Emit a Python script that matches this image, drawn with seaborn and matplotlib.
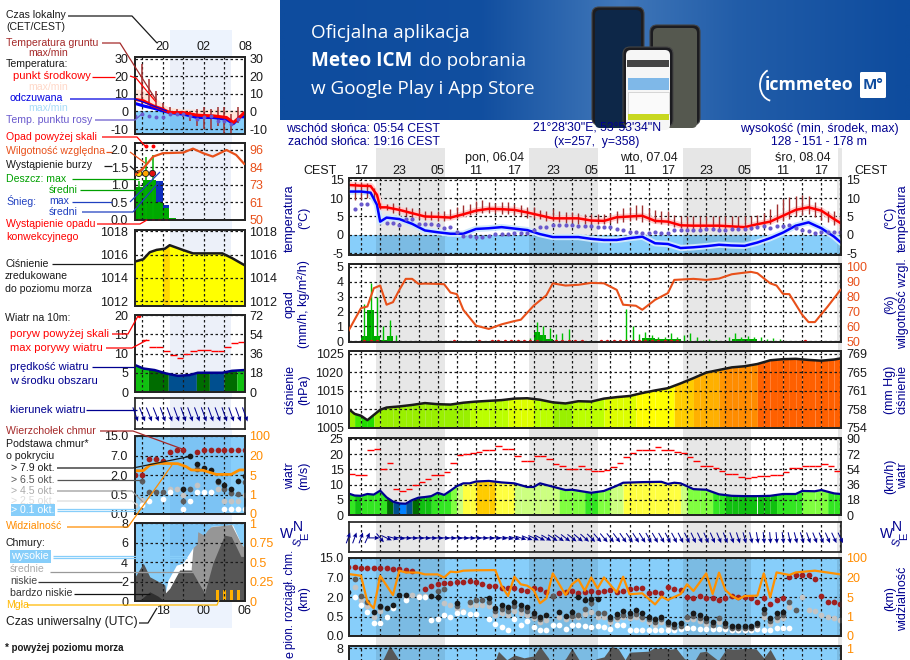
import numpy as np
import seaborn as sns
import matplotlib.pyplot as plt
from matplotlib.patches import FancyBboxPatch, Rectangle, Arc

W, H = 910, 660

# ---- long chart (hours after 17:00 local) ----
t_line = [-2, 0, 1.5, 2.5, 3, 4, 6, 8, 10, 12, 14, 16, 18, 20, 22, 24, 26, 28, 30, 32, 34, 36, 38, 40, 42, 44, 46, 48, 50, 52, 54, 56, 58, 60, 62, 64, 66, 68, 70, 72, 74, 75.2, 76]
temp_mid = [13.6, 13.4, 13.3, 10.9, 7.5, 7.5, 6.8, 5.9, 5, 4.9, 4.7, 5.6, 6.6, 7.1, 7, 6.8, 6.1, 5.3, 4.5, 4.5, 4.5, 3.9, 3.8, 4.8, 5, 5.2, 3.8, 3.6, 2.6, 2.5, 2.5, 2.5, 2.3, 2.1, 2.9, 3.6, 5.2, 6.8, 7.5, 6.6, 4.3, 3, 2.4]
temp_feel = [11.8, 11.8, 11.5, 8.2, 3.6, 4.7, 4.3, 3, 1.2, 0.7, 0.3, 0.3, 1.6, 1.8, 2.1, 1.7, 1.3, 0.2, -0.6, -0.6, -0.6, -1.1, -1.4, -1.4, -0.9, -0.5, -2.3, -2.5, -3.6, -3.4, -3.1, -2.7, -2.9, -3, -2.1, -0.9, 0.6, 2.5, 3.4, 1.8, -0.5, -2.3, -3]
hours = list(range(-2, 76))
dew = [np.nan, 7, 8.4, 8.5, np.nan, np.nan, 3.2, 3.1, 2.6, 4.2, 4.2, 3, 3, 3, 2.7, 1.8, 2, 0.9, -0.2, -0.2, -0.5, -0.5, -0.2, 0.1, 0.3, 0.3, 0.5, 0.5, 0.6, 1.4, 2.2, 2.2, 2.7, 2.7, 2.7, 2.7, 2.5, 2.5, 2.3, 2.1, 2.1, 2, 1.7, 1.4, 0.9, 0.9, 0.6, 0.6, 0.7, 0.6, 0.5, 1.4, 1.4, 1.3, 1.4, 1.4, 1.5, 1.5, 1.3, 1.4, 1.5, 1.5, 1.6, 1.8, 2.1, 2.3, 1.8, 2.3, 2.5, 2.7, 1.8, 1.4, 1.1, 0.6, 0.9, 0.7, 0.9, 0.7]
ground_max = [np.nan, 14.3, 14.3, 14.1, 12.7, 8.8, 8.5, 8.6, 7.8, 7.6, 7.3, 7, 6.6, 6.4, 6.5, 6.6, 7, 7.5, 8, 8.5, 9.2, 9.5, 9, 8.6, 9, 9, 8.5, 8, 7.5, 7.6, 6.8, 6.6, 7, 6.5, 6.3, 6.3, 6, 5.8, 5.7, 5.8, 5.8, 6, 6.5, 7.2, 7.5, 8, 8, 7.4, 6.9, 6.6, 6.6, 5.3, 5.2, 5.2, 5.2, 5.2, 5.2, 5.2, 5.2, 5, 5, 5, 5, 5.2, 5.5, 6, 7, 8.5, 9.7, 10.2, 10.5, 10.9, 10.6, 9, 7.5, 6.6, 6.5, 5]
ground_min = [np.nan, 9.5, 9.7, 10, 9.5, 7, 6.8, 6, 5.6, 5.2, 4.6, 4.3, 4.1, 4, 3.9, 3.8, 4.2, 4.6, 5, 5.5, 6, 6, 6, 6, 5.8, 5.8, 5.5, 5, 4.7, 4.7, 4.4, 3.8, 3.8, 3.4, 3.3, 3.3, 3, 3, 3, 3, 3, 3.2, 3.2, 3.5, 3.8, 4, 3.6, 3.4, 3.3, 3, 2.6, 2.2, 1.8, 1.6, 1.6, 1.6, 1.6, 1.5, 1.5, 1.5, 1.4, 1.3, 1.3, 1.4, 1.8, 2.2, 3, 3.5, 3.8, 4.2, 5, 5.4, 5.6, 4.8, 4, 3.4, 2.6, 1.8]

rh_t = [-2, 0, 1, 2, 3, 4, 5, 6, 7, 8, 9, 10, 12, 13, 14, 15, 16, 18, 20, 22, 24, 25, 27, 29, 30, 32, 34, 36, 38, 40, 41, 43, 44, 46, 48, 49, 52, 54, 56, 58, 60, 61, 62, 64, 65, 66, 67, 69, 70, 71, 73, 75, 76]
rh = [56.7, 72.3, 73.4, 85.7, 87.5, 74.6, 76.3, 84.6, 92, 92, 88.6, 88.8, 88.6, 88.4, 82.8, 81.7, 71.2, 60.5, 58.3, 61.4, 63.6, 64.5, 73.9, 81, 89, 87.5, 88, 89.3, 89, 84.6, 74.6, 73.9, 71.2, 77.9, 82.4, 91.3, 92, 91.3, 92.2, 95.1, 96.2, 96.7, 95.8, 89, 87.5, 81.9, 81.7, 67.9, 62.9, 62.9, 73.4, 84.6, 87]
rain_start = [0, 1, 2, 3, 4, 27, 28, 29, 44, 46, 58]
rain_len = [1, 1, 1, 1, 1, 1, 1, 1, 2, 4, 4]
rain_mean = [0.38, 2.1, 0.38, 0.07, 0.38, 0.6, 0.45, 0.18, 0.22, 0.18, 0.18]
spike_t = [0.5, 1.5, 2.5, 3.5, 4.5, 5.5, 26.5, 27.5, 28.5, 29.5, 30.5, 31.5, 32.5, 41.5, 42.5, 43.5, 44.5, 45.5, 46.5, 47.5, 48.5, 49.5, 50.5, 51.5, 52.5, 53.5, 54.5, 55.5, 57.5, 58.5, 59.5, 60.5, 61.5, 62.5, 63.5, 64.5, 65.5]
spike_v = [2.5, 3.9, 3, 1, 1.45, 0.45, 0.2, 1.3, 1, 0.87, 0.5, 0.55, 0.8, 2.2, 1, 0.5, 0.6, 0.45, 0.3, 0.3, 0.55, 0.3, 0.45, 0.55, 0.3, 0.1, 0.15, 0.1, 0.3, 0.55, 0.3, 0.38, 0.3, 0.28, 0.15, 0.2, 0.15]
conv_t = [0.5, 1.5, 2.5, 14.5, 18.5, 20.5, 21.5, 22.5, 23.5, 24.5, 25.5, 26.5, 27.5, 30.5, 31.5, 32.5, 33.5, 34.5, 37.5, 38.5, 39.5, 40.5, 41.5, 42.5, 43.5, 44.5, 45.5, 46.5, 47.5, 48.5, 49.5, 69.5]

press_t = [-2, -1, 0, 1, 3, 4, 6, 8, 10, 12, 14, 16, 18, 20, 22, 24, 26, 28, 30, 32, 34, 36, 38, 40, 42, 44, 46, 48, 50, 52, 54, 56, 58, 60, 62, 64, 66, 68, 70, 72, 74, 76]
press = [1010.2, 1008.8, 1008.3, 1007.1, 1009.9, 1010.5, 1010.8, 1011.2, 1011.7, 1011.4, 1011.3, 1011.8, 1012.1, 1012.3, 1012.5, 1012.9, 1013, 1012.6, 1011.9, 1011.6, 1012.2, 1012.1, 1012.9, 1013.3, 1013.6, 1014.4, 1015.1, 1015.7, 1017, 1018.4, 1019.9, 1020.6, 1021.3, 1021.6, 1022.2, 1023.2, 1023.5, 1023.6, 1023.3, 1023.1, 1023.4, 1024]

wind_t = [-2, -1, 0, 1, 2, 3, 4, 5, 6, 7, 8, 9, 10, 11, 12, 13, 14, 15, 16, 17, 18, 19, 20, 22, 24, 26, 27, 28, 30, 32, 33, 36, 38, 40, 41, 44, 47, 48, 49, 50, 52, 54, 56, 58, 60, 62, 64, 66, 68, 69, 71, 72, 74, 76]
wind = [7.1, 6.4, 6.3, 6.9, 6.7, 8, 5.8, 4.4, 3.8, 3.7, 4.9, 5.7, 5.9, 6.2, 7.3, 6.6, 8, 9.5, 10.4, 10.4, 11, 11.1, 11.2, 10.7, 10.4, 9.2, 9.2, 10.4, 9.3, 8.2, 8.3, 7.3, 7.9, 9.6, 10.6, 10.8, 10.9, 10.2, 10.6, 10.4, 8.5, 8.3, 6.8, 6.3, 6.2, 6.2, 6.3, 6.9, 6.9, 7.9, 7.8, 8.2, 7.1, 6.7]
gust = [13.6, 13.3, 13.3, 21.5, 21.8, 15, 17.2, 8.7, 7.9, 8.7, 10, 10.7, 11.7, 13.3, 13.3, 14, 17.2, 19.8, 20, 20.3, 20.8, 21.5, 21.5, 22.8, 21.8, 21.8, 19.5, 17.6, 17.9, 19.5, 19.5, 18.3, 16.6, 16.2, 15, 15, 16.2, 15, 14.3, 14.3, 14.7, 15.7, 17, 18.9, 20.5, 21.2, 21.2, 21.2, 22.2, 21.2, 21.2, 20.8, 20.5, 18.9, 17.6, 16, 16, 15.4, 14.3, 13.6, 13.6, 12.4, 12.1, 12.4, 12.8, 12.8, 13, 13.3, 14, 15.4, 15.4, 16, 16.2, 16, 16.6, 16, 14.6, 13]
wind_dir = [200, 200, 200, 205, 270, 320, 295, 285, 280, 275, 275, 275, 275, 275, 275, 275, 275, 275, 275, 275, 275, 275, 276, 278, 280, 282, 285, 288, 292, 295, 298, 300, 303, 305, 307, 308, 310, 312, 315, 318, 320, 322, 323, 325, 325, 327, 328, 330, 330, 330, 332, 332, 333, 333, 335, 335, 335, 336, 337, 338, 340, 342, 344, 346, 350, 354, 355, 355, 352, 348, 345, 342, 340, 338, 337, 336, 335, 335]

# cloud panels: values are positions on the 0.0/0.5/2/7/15 km scale (ticks 0..4)
base_top = [3.52, 3.52, 3.47, 3.47, 3.47, 3.47, 3.47, 3.42, 3.42, 3.38, 3.35, np.nan, 2.43, 2.58, 2.65, 2.7, 2.7, 2.75, 2.79, 2.8, 2.75, 2.65, 2.58, 2.58, 2.48, 2.44, 2.44, 2.36, 2.32, 2.44, 2.39, 2.27, 2.05, 2.19, 2.24, 2.31, 2.19, 2.24, 2.32, 2.27, 2.32, 2.36, 2.27, 2.32, 2.41, 2.48, 2.44, 2.19, 2.24, 2.19, 2.53, 2.39, 2.36, 2.02, 1.93, 2.05, 1.93, 1.93, 1.85, 1.93, 2.07, 1.98, 2.02, 1.93, 1.74, 1.93, 1.64, 1.85, 1.97, 3.04, 3.11, 3.11, 3.13, 2.92, 2.07, 1.76, 1.73, 1.64]
black_t = [-2, 2, 3, 4, 5, 6, 7, 11, 12, 15, 20, 21, 22, 23, 24, 25, 26, 27, 28, 29, 31, 32, 33, 34, 35, 36, 37, 39, 40, 41, 42, 43, 44, 45, 46, 47, 48, 49, 50, 52, 53, 54, 55, 57, 58, 59, 60, 61, 62, 63, 64, 65, 66]
black_p = [2.24, 1.21, 1.56, 1.42, 1.57, 2.12, 2.09, 2.05, 2.02, 1.68, 1.95, 1.45, 1.57, 1.5, 1.74, 1.59, 1.5, 1.2, 0.99, 1.08, 1.21, 1.03, 1.21, 1.98, 1.85, 1.88, 1.9, 0.99, 1.15, 1.26, 1.2, 1.32, 1.16, 0.99, 0.85, 0.99, 0.74, 0.6, 0.65, 1.16, 1.06, 0.91, 0.7, 0.65, 0.5, 0.5, 0.5, 0.51, 0.68, 1.37, 0.91, 1.16, 1.25]
dark_t = [-1, 0, 1, 3, 3, 12, 13, 15, 17, 18, 19, 20, 21, 22, 23, 24, 25, 26, 27, 28, 30, 33, 34, 35, 36, 37, 38, 39, 40, 41, 42, 43, 44, 45, 46, 47, 48, 49, 50, 51, 52, 53, 54, 55, 56, 57, 58, 59, 60, 61, 62, 63, 64, 65, 66, 67, 68]
dark_p = [2.92, 2.07, 1.76, 2.9, 1.5, 2.3, 2.4, 1.55, 1.76, 1.85, 1.85, 1.75, 1.28, 1.4, 1.3, 1.55, 1.4, 1.3, 1.05, 0.85, 2.05, 1.05, 1.1, 1.37, 1.7, 1.16, 1.16, 0.85, 1.0, 1.1, 1.05, 1.15, 1.0, 0.85, 0.7, 0.85, 0.6, 0.48, 0.5, 1.0, 1.05, 0.92, 0.75, 0.58, 0.9, 0.5, 0.4, 0.4, 0.4, 0.4, 0.55, 1.2, 0.75, 1.0, 1.08, 1.76, 1.33]
light_t = [-1, 0, 1, 2, 3, 7, 8, 9, 10, 13, 14, 15, 16, 17, 18, 19, 20, 21, 22, 23, 24, 25, 26, 27, 28, 29, 31, 32, 33, 34, 35, 36, 37, 38, 39, 40, 41, 42, 43, 44, 45, 46, 47, 48, 49, 50, 51, 52, 53, 54, 55, 56, 57, 58, 59, 60, 61, 62, 63, 64, 65, 66, 67, 69, 70, 71, 72, 73, 74, 75]
light_p = [2.5, 1.85, 1.55, 1.0, 1.3, 2.0, 2.1, 2.05, 2.05, 1.7, 1.6, 1.4, 1.3, 1.6, 1.6, 1.6, 1.55, 1.1, 1.2, 1.1, 1.3, 1.2, 1.1, 0.9, 0.7, 0.8, 1.0, 0.85, 0.95, 0.95, 1.15, 1.25, 1.0, 0.95, 0.7, 0.85, 0.95, 0.9, 1.0, 0.85, 0.7, 0.55, 0.7, 0.45, 0.38, 0.4, 0.85, 0.85, 0.75, 0.6, 0.45, 0.7, 0.42, 0.32, 0.32, 0.32, 0.32, 0.45, 1.0, 0.6, 0.8, 0.9, 1.5, 1.98, 1.33, 1.3, 1.1, 1.0, 0.9, 0.8]
white_t = [-1, 0, 1, 2, 3, 4, 5, 7, 9, 10, 11, 12, 13, 14, 15, 16, 17, 18, 20, 21, 22, 23, 24, 25, 26, 27, 28, 29, 30, 31, 32, 33, 34, 35, 36, 37, 38, 39, 40, 41, 42, 43, 44, 45, 46, 47, 48, 49, 50, 51, 52, 53, 54, 55, 56, 57, 58, 59, 60, 61, 62, 63, 64, 65, 66, 67]
white_p = [2, 1.6, 1.25, 0.65, 0.65, 1, 1.42, 1.85, 2, 2, 0.82, 0.85, 1.08, 0.99, 1.16, 1.25, 1.11, 1.11, 0.89, 0.62, 0.48, 0.31, 0.85, 0.56, 0.79, 0.48, 0.31, 0.31, 0.56, 0.56, 0.34, 0.56, 0.56, 0.53, 0.48, 0.51, 0.48, 0.34, 0.56, 0.56, 0.29, 0.29, 0.29, 0.29, 0.29, 0.29, 0.29, 0.29, 0.34, 0.39, 0.39, 0.36, 0.36, 0.36, 0.36, 0.36, 0.29, 0.29, 0.29, 0.29, 0.34, 0.31, 0.29, 0.39, 0.41, 0.41]
vis_t = [-2, 0, 1, 2, 3, 5, 6, 7, 9, 10, 12, 13, 14, 15, 16, 18, 21, 22, 23, 24, 25, 26, 27, 28, 29, 30, 32, 33, 34, 35, 36, 37, 38, 40, 41, 42, 44, 46, 47, 48, 50, 51, 52, 54, 55, 56, 57, 58, 59, 60, 62, 63, 64, 65, 67, 68, 71, 75, 76]
vis_p = [3.18, 3.09, 1.76, 1.42, 3.08, 2.1, 3.35, 3.26, 3.25, 3.16, 3.16, 3, 3.3, 3.27, 3.35, 3.37, 3.38, 2.56, 2.05, 3.04, 2.65, 2.58, 2.36, 1.68, 1.93, 3.21, 2.1, 2.65, 2.9, 2.32, 3, 2.44, 3, 2.24, 3.04, 2.14, 2.19, 1.62, 2.02, 1.85, 2.15, 2.65, 2.31, 3.21, 2.15, 3.25, 2.36, 2.05, 1.88, 2.05, 2.07, 3.21, 1.98, 3.26, 3.13, 3.26, 3.35, 3.16, 3.1]

cover_t = [-2, 2.2, 3.5, 4.5, 5.8, 6, 20.6, 21.5, 22.8, 24, 25.5, 27, 28, 29.3, 30, 32, 33, 34, 35, 36.8, 38, 39.2, 40.2, 41.3, 42, 45, 45.7, 48, 48.3, 49.3, 50.6, 52.2, 53, 54, 55.9, 57.2, 58.2, 60.3, 61.8, 63, 64, 65, 65.5]
cover_v = [6, 6, 6.9, 8.3, 6.9, 6, 6, 7.68, 6.8, 7.3, 7, 7.2, 8.2, 7, 6, 6.9, 8, 6.9, 6, 6.9, 7.1, 8.2, 8, 6.8, 7.6, 7.7, 8, 8, 7.9, 8, 6.9, 6.7, 7.6, 7.7, 6.7, 8, 7.9, 8, 7.95, 7, 7.9, 6.7, 6]

# ---- short chart (hours after 20:00 local) ----
s_t = [-4.06, -2.85, -1.4, 0, 1, 3, 5, 7.4, 9.3, 10.3, 11.3, 11.9]
s_mid = [6.9, 6.1, 3.2, 1.3, -0.6, -0.6, -2.1, -2.5, -3.4, -6.3, -3, -0.6]
s_feel = [4.6, 3.2, 1.9, 0.4, -0.6, -1.5, -3.4, -3.4, -4.4, -6.9, -3, -3]
s_pink = [12.8, 12.2, 9, 4.2, 2.3, 1.5, 1.3, 1.3, 1, 0.8, 0.5, 0.4]
s_hours = list(range(-4, 12))
s_dew = [-2.5, -1.5, -2.5, -2.9, -2.9, -1.5, -1.5, -1.5, -2.5, -4.4, -3.4, -2.5, -5.3, -5.3, -7.2, -4.4]
s_ground_t = list(range(-3, 12))
s_ground_max = [27, 18.5, 11.8, 5.1, 2.7, 1.3, -0.6, 0.4, 1.3, 2.3, 1.3, 2.3, 2.3, -1.5, 2.3]
s_ground_min = [4, 3.8, 3.2, 0.8, -1.1, -2.5, -3.4, -5.3, -8.2, -10, -10, -8.2, -13, -12.6, -6.3]
s_rh_t = [-4.06, -2.85, -1.4, 0, 3, 4.4, 5.9, 7.3, 9.3, 10.7, 11.9]
s_rh = [79.6, 84, 91.7, 93.9, 94.3, 96.9, 93.9, 91.7, 96, 92.8, 86.8]
s_rain_start = [-4.06, -2.85, -0.93, 0, 0.97]
s_rain_len = [1.21, 1.92, 0.93, 0.97, 0.96]
s_rain = [0.95, 1.14, 0.52, 0.33, 0.05]
s_snow = [0, 0, 0.58, 0.1, 0]
s_spike_t = [-3.5, -2.5, -1.5]
s_spike_v = [1.1, 1.8, 1.85]
s_storm_col = ['#ffe000', '#ffa500', '#e01010']
s_conv_t = [-3.5, -2.5, -1.5, -0.5, 0.5]
s_press_t = [-4.06, -2.85, -1.9, -0.9, 0.3, 1, 2.9, 4.4, 8.7, 10.1, 11.9]
s_press = [1015.4, 1015.6, 1016.2, 1016.4, 1016.5, 1016.8, 1016.4, 1016.1, 1016.1, 1015.7, 1015.1]
s_wind_t = [-4.06, -2.85, -1.2, 0.5, 2.2, 3.9, 5.1, 8.7, 10.1, 11.9]
s_wind = [7, 6.1, 5.7, 4.8, 4.2, 4.4, 5, 5, 5.5, 5.7]
s_wind_edge = [-4.06, -2.1, 0.8, 4.9, 6.8, 8.9, 10.8, 11.9]
s_wind_col = ['#10c010', '#006c00', '#004f8f', '#006c00', '#004f8f', '#006c00', '#10c010']
s_gust = [13.5, 11.7, 11.7, 10.6, 9.6, 8.8, 9.8, 10.6, 10.9, 10.9, 10.6, 10.6, 11.7, 12.6, 13]
s_gust_t = list(range(-3, 12))
s_dir = [340, 338, 338, 338, 340, 340, 340, 340, 340, 340, 340, 340, 340, 340, 340, 340, 340]
s_dir_t = list(range(-4, 13))
s_top = [1.98, 1.98, 2.84, 2.84, 2.74, 3.2, 3.3, 3.3, np.nan, 3.2, 3.3, 3.3, 3.3, 3.3, 3.3, 3.3, 3.3]
s_dots_t = list(range(-4, 13))
s_black_t = [3, 4, 5, 6, 7, 8, 9, 10, 11, 12]
s_black_p = [1.26, 2.96, 2.55, 2.34, 2.24, 1.68, 1.49, 1.26, 1.68, 1.95]
s_dark_t = [-3, -2, -1, 0, 3, 4, 5, 8, 9, 10, 11, 12]
s_dark_p = [1.68, 1.11, 1.11, 1.11, 0.68, 1.26, 2.3, 1.66, 1.26, 1.1, 1.05, 1.66]
s_light_t = [-4, -3, 1, 2, 3, 5, 8, 9, 10, 11, 12]
s_light_p = [0.46, 0.72, 1.26, 1.26, 1.0, 1.49, 1.26, 0.68, 0.68, 0.68, 0.97]
s_white_t = [-3, -2, 0, 1, 3, 4, 5, 6, 7, 9, 10, 11, 12]
s_white_p = [0.46, 0.68, 0.75, 1.11, 0.24, 0.68, 1.11, 1.11, 1.11, 0.24, 0.24, 0.24, 0.24]
s_vis_t = [-4.06, -2.85, -1.9, -0.7, 2.2, 3.4, 4.15, 5.9, 7.8, 10, 11.2, 11.9]
s_vis_p = [2.22, 2.22, 2.51, 2.6, 2.58, 2.43, 2.26, 2.24, 2.03, 2.03, 2.26, 2.26]
high_t = [0.1, 0.77, 1.98, 2.9, 4.4, 6.1, 7, 10.2, 11.4, 11.9]
high_v = [0, 2.16, 3.7, 3.9, 5.5, 5.9, 7.7, 7.85, 5.96, 5.5]
mid_t = [4.1, 4.15, 4.4, 5, 5.1, 6, 6.5, 7, 10, 11.4, 11.9]
mid_v = [0, 3.4, 5.5, 5.9, 7.15, 6.8, 7.3, 7.66, 7.9, 5.95, 5.5]
low_t = [-4.06, -2.85, -1.9, 0.3, 0.4, 1, 2.46, 4.15, 6.1, 7.3, 9, 10, 11.4, 11.9]
low_v = [2.5, 3.9, 2.5, 1.65, 0.85, 1.3, 3.2, 3.2, 0.8, 3.9, 6.8, 6.65, 4.6, 4.6]
vlow_t = [-3.5, -2.5, -1.9, -0.7, 0.2]
vlow_v = [0, 0.6, 0.95, 0.5, 0]
fog_t = [8, 9, 10, 11]
fog_v = [1.15, 1.15, 1.15, 1.15]

hour_names = ['17', '23', '05', '11', '17', '23', '05', '11', '17', '23', '05', '11', '17']
LONG_X = (-1.875, 75.08)
SHORT_X = (-4.06, 11.9)
LONG_NIGHT = [(2.35, 13.1), (26.3, 37.1), (50.3, 61), (74.4, 76)]
SHORT_NIGHT = [(1, 10)]
SKY = '#87cefa'
NAVY = '#000090'
RH_COL = '#e8501a'
VIS_COL = '#ff8c00'

sns.set_theme(style='white')
plt.rcParams['font.family'] = ['Liberation Sans', 'DejaVu Sans']
plt.rcParams['axes.unicode_minus'] = False

fig = plt.figure(figsize=(W / 100, H / 100), dpi=100)
fig.patch.set_facecolor('white')


def px_axes(x0, x1, y0, y1, **kw):
    return fig.add_axes([x0 / W, 1 - y1 / H, (x1 - x0) / W, (y1 - y0) / H], **kw)


def panel(box, xlim, ylim, yt, ylab, rlab, rcol='k', long=True, face='white'):
    ax = px_axes(*box)
    ax.set_facecolor(face)
    ax.set_xlim(*xlim)
    ax.set_ylim(*ylim)
    ax.set_xticks(list(range(0, 76, 3)) if long else list(range(-3, 13, 3)))
    ax.tick_params(length=0, labelbottom=False, labelsize=9, pad=4 if long else 5, colors='k')
    ax.set_yticks(yt, ylab)
    ax.grid(True, color='k', linestyle=(0, (2, 2)), linewidth=0.9)
    ax.set_axisbelow(False)
    night = LONG_NIGHT if long else SHORT_NIGHT
    for a, b in night:
        if long:
            ax.axvspan(a, b, color='k', alpha=0.1, lw=0, zorder=0.6)
        else:
            ax.axvspan(a, b, color='#0040b0', alpha=0.075, lw=0, zorder=0.6)
    for s in ax.spines.values():
        s.set_linewidth(1.3)
        s.set_color('#111111')
    tw = ax.twinx()
    tw.set_ylim(*ylim)
    tw.set_yticks(yt, rlab, color=rcol)
    tw.tick_params(length=0, labelsize=9, pad=4 if long else 3)
    tw.grid(False)
    return ax, tw


def line(ax, x, y, col, lw=1.5, z=3, **kw):
    sns.lineplot(x=x, y=y, color=col, linewidth=lw, ax=ax, zorder=z, estimator=None, sort=False, **kw)


def dots(ax, x, y, col, s=17, z=4):
    sns.scatterplot(x=x, y=y, color=col, s=s, linewidth=0, ax=ax, zorder=z)


def blocks(ax, x, y, edges, pick):
    # colour the area under a curve hour by hour from its own value
    for a, b in zip(edges[:-1], edges[1:]):
        ya, yb = np.interp([a, b], x, y)
        ax.fill_between([a, b], [ya, yb], ax.get_ylim()[0], color=pick((ya + yb) / 2), lw=0, zorder=1, antialiased=False)


def press_col(v):
    lev = [1008, 1009, 1011.9, 1012.8, 1014.2, 1016.3, 1018.4, 1020.6, 1021, 1022.2]
    col = ['#22dd00', '#44e800', '#99f000', '#bbff00', '#ddff00', '#ffff00', '#ffcc00', '#ffb000', '#ff9500', '#ff8c00', '#ff6000']
    return col[np.digitize(v, lev)]


def wind_col(v):
    lev = [3.9, 4.6, 5.5, 6.6, 7.6, 9, 10.3, 10.95]
    col = ['#0080ff', '#004f8f', '#006c00', '#10c010', '#33e622', '#80ff40', '#ccff80', '#ffff40', '#ffcc00']
    return col[np.digitize(v, lev)]


def arrows(ax, x, deg, size):
    to = np.radians(np.array(deg) + 180)
    ax.quiver(x, np.full(len(x), 0.47), np.sin(to), np.cos(to), pivot='mid', angles='uv', units='inches',
              scale_units='inches', scale=1 / size, width=0.01, headwidth=4.6, headlength=5,
              headaxislength=4.4, color=NAVY, zorder=4, clip_on=False)


# ---- background: banner and daylight bands ----
bg = fig.add_axes([0, 0, 1, 1], zorder=-5)
banner = np.zeros((2, 64, 3))
ramp = np.interp(np.arange(64), [0, 20, 34, 46, 63], [0, 0.05, 0.9, 0.35, 0])
for k, (lo, hi) in enumerate([(0x0e, 0x46), (0x4c, 0x7c), (0x9e, 0xbc)]):
    banner[:, :, k] = (lo + (hi - lo) * ramp) / 255
bg.imshow(banner, extent=(280, 910, 120, 0), aspect='auto', interpolation='bilinear')
bg.set_xlim(0, W)
bg.set_ylim(H, 0)
bg.axis('off')
for a, b in [(376, 445), (529, 598), (683, 751), (838, 842)]:
    bg.add_patch(Rectangle((a, 148), b - a, 512, color='#e6e6e6', lw=0))
bg.add_patch(Rectangle((170, 30), 62, 598, color='#edf3fd', lw=0))
for x, y, w, h, c, scr in [(592, 7, 52, 118, '#1c1c20', '#0d2748'), (650, 25, 50, 100, '#1c1c20', '#55584f'), (623, 47, 50, 80, '#1c1c20', '#f6f6f6')]:
    bg.add_patch(FancyBboxPatch((x, y), w, h, boxstyle='round,pad=0,rounding_size=7', fc=c, ec='#444444', lw=0.8, clip_on=True))
    bg.add_patch(FancyBboxPatch((x + 3, y + 3), w - 6, h, boxstyle='round,pad=0,rounding_size=5', fc=scr, ec='none', clip_on=True))
bg.add_patch(Rectangle((0, 120), W, 40, color='white', lw=0, zorder=0.5))
for a, b in [(376, 445), (529, 598), (683, 751), (838, 842)]:
    bg.add_patch(Rectangle((a, 148), b - a, 12, color='#e6e6e6', lw=0, zorder=0.6))
bg.add_patch(Rectangle((627, 60), 42, 7, color='#444444', lw=0, zorder=2))
bg.add_patch(Rectangle((628, 78), 41, 12, color='#7fb8e8', lw=0, zorder=2))
bg.add_patch(Rectangle((628, 92), 41, 22, color='#fafafa', ec='#bbbbbb', lw=0.4, zorder=2))
bg.add_patch(Rectangle((628, 114), 41, 6, color='#c8d820', lw=0, zorder=2))
bg.add_patch(FancyBboxPatch((860, 72), 26, 26, boxstyle='round,pad=0,rounding_size=1.5', fc='white', ec='none', zorder=2))
bg.add_patch(Arc((773, 85), 26, 32, theta1=100, theta2=250, color='white', lw=1.3, zorder=2))

# ---- short chart on the left ----
ax, tw = panel((135, 245, 57, 134), SHORT_X, (-12.8, 31), [30, 20, 10, 0, -10], ['30', '20', '10', '0', '-10'], ['30', '20', '10', '0', '-10'], long=False)
ax.axhspan(-12.8, 0, color=SKY, lw=0, zorder=0.4)
ax.fill_between(s_t, s_pink, s_mid, color='#ffe4d8', lw=0, zorder=1)
ax.set_xticks(list(range(-3, 13, 3)), ['', '20', '', '02', '', '08'])
ax.tick_params(axis='x', labeltop=True, labelbottom=False, pad=3)
ax.vlines(s_ground_t, s_ground_min, s_ground_max, color='#a03030', lw=1.1, zorder=3)
line(ax, s_t, s_feel, '#0000ff', 2.2)
line(ax, s_t, s_mid, '#ff0000', 2.2)
dots(ax, s_hours, s_dew, '#6a5acd', s=8)

ax, tw = panel((135, 245, 143, 220), SHORT_X, (0, 2.2), [0, 0.5, 1, 1.5, 2], ['0.0', '0.5', '1.0', '1.5', '2.0'], ['50', '61', '73', '84', '96'], RH_COL, long=False)
ax.bar(s_rain_start, s_snow, s_rain_len, bottom=s_rain, align='edge', color='#1030c0', lw=0, zorder=2)
ax.bar(s_rain_start, s_rain, s_rain_len, align='edge', color='#00a800', lw=0, zorder=2)
ax.vlines(s_spike_t, 0, s_spike_v, color='#00b000', lw=1.1, zorder=3)
dots(ax, s_spike_t[1:], [2.1, 2.1], '#ff0000', s=8)
dots(ax, s_conv_t, np.zeros(5), '#e01010', s=6)
sns.scatterplot(x=s_spike_t, y=[1.33, 1.33, 1.33], hue=s_storm_col, palette={c: c for c in s_storm_col}, s=20, edgecolor='k', linewidth=0.6, ax=ax, zorder=5, legend=False)
tw.set_ylim(50, 100.6)
tw.set_yticks([50, 61.5, 73, 84.5, 96], ['50', '61', '73', '84', '96'], color=RH_COL)
line(tw, s_rh_t, s_rh, RH_COL, 1.6)

ax, tw = panel((135, 245, 230, 306), SHORT_X, (1011.6, 1018.1), [1018, 1016, 1014, 1012], ['1018', '1016', '1014', '1012'], ['1018', '1016', '1014', '1012'], long=False)
ax.fill_between(s_press_t, s_press, 1011.6, color='#ffff00', lw=0, zorder=1)
ax.fill_between([0, 0.95], [1016.5, 1016.78], 1011.6, color='#ffd800', lw=0, zorder=1.1)
line(ax, s_press_t, s_press, 'k', 1.8)

ax, tw = panel((135, 245, 315, 392), SHORT_X, (0, 20), [20, 15, 10, 5, 0], ['20', '15', '10', '5', '0'], ['72', '54', '36', '18', '0'], long=False)
for a, b, c in zip(s_wind_edge[:-1], s_wind_edge[1:], s_wind_col):
    xs = np.linspace(a, b, 6)
    ax.fill_between(xs, np.interp(xs, s_wind_t, s_wind), 0, color=c, lw=0, zorder=1)
line(ax, s_wind_t, s_wind, NAVY, 1.8)
ax.hlines(s_gust, s_gust_t, np.array(s_gust_t) + 1, color='#ff0000', lw=1, zorder=3)
dots(ax, [-3.5], [19.8], '#ff0000', s=6)

ax = px_axes(135, 245, 398, 429)
ax.set_xlim(*SHORT_X)
ax.set_ylim(0, 1)
ax.set_xticks(list(range(-3, 13, 3)))
ax.set_yticks([])
ax.tick_params(length=0, labelbottom=False)
ax.grid(True, axis='x', color='k', linestyle=(0, (2, 2)), linewidth=0.9)
ax.axvspan(1, 10, color='#0040b0', alpha=0.075, lw=0, zorder=0.6)
arrows(ax, s_dir_t, s_dir, 0.15)

ax, tw = panel((135, 245, 436, 514), SHORT_X, (0, 4), [4, 3, 2, 1, 0], ['15.0', '7.0', '2.0', '0.5', '0.0'], ['100', '20', '5', '1', '0'], VIS_COL, long=False, face=SKY)
dots(ax, s_dots_t, s_top, '#a02020')
dots(ax, s_light_t, s_light_p, '#c4c4c4')
dots(ax, s_dark_t, s_dark_p, '#5c5c5c', z=4.2)
dots(ax, s_white_t, s_white_p, 'white', z=4.1)
dots(ax, s_black_t, s_black_p, 'k', z=4.3)
line(ax, s_vis_t, s_vis_p, '#ff9000', 2, z=4.5)

ax, tw = panel((135, 245, 523, 601), SHORT_X, (0, 8.05), [8, 6, 4, 2, 0], ['8', '6', '4', '2', '0'], ['1', '0.75', '0.5', '0.25', '0'], VIS_COL, long=False, face=SKY)
ax.fill_between(high_t, high_v, 0, color='white', lw=0, zorder=1)
ax.fill_between(mid_t, mid_v, 0, color='#969696', lw=0, zorder=1.2)
ax.fill_between(low_t, low_v, 0, color='#575757', lw=0, zorder=1.4)
ax.fill_between(vlow_t, vlow_v, 0, color='#303030', lw=0, zorder=1.6)
ax.bar(fog_t, fog_v, 0.4, color='#ffb000', lw=0, zorder=2)
ax.set_xticks(list(range(-3, 13, 3)), ['', '18', '', '00', '', '06'])
ax.tick_params(axis='x', labelbottom=True, pad=3)

# ---- long chart on the right ----
ax, tw = panel((349, 841, 178, 255), LONG_X, (-5.5, 15.5), [15, 10, 5, 0, -5], ['15', '10', '5', '0', '-5'], ['15', '10', '5', '0', '-5'])
ax.axhspan(-5.5, 0, color=SKY, lw=0, zorder=0.4)
grid_names = [hour_names[i // 2] if i % 2 == 0 else '' for i in range(26)]
ax.set_xticks(list(range(0, 76, 3)), grid_names)
ax.tick_params(axis='x', labeltop=True, labelbottom=False, pad=0.5)
ax.vlines(hours, ground_min, ground_max, color='#a03030', lw=1, zorder=2.8)
line(ax, t_line, temp_feel, '#cfe8fb', 4.5, z=2.7)
line(ax, t_line, temp_mid, '#ffd0d0', 4.5, z=2.7)
line(ax, t_line, temp_feel, '#0000ff', 1.8)
line(ax, t_line, temp_mid, '#ff0000', 1.8)
dots(ax, hours, dew, '#6a5acd', s=9)

ax, tw = panel((349, 841, 264, 342), LONG_X, (-0.05, 5.2), [5, 4, 3, 2, 1, 0], ['5', '4', '3', '2', '1', '0'], ['100', '90', '80', '70', '60', '50'], RH_COL)
ax.bar(rain_start, rain_mean, rain_len, align='edge', color='#00a800', lw=0, zorder=2)
ax.vlines(spike_t, 0, spike_v, color='#00c000', lw=1, zorder=3)
dots(ax, conv_t, np.zeros(len(conv_t)), '#e01010', s=6)
tw.set_ylim(49.5, 102)
tw.set_yticks([100, 90, 80, 70, 60, 50], ['100', '90', '80', '70', '60', '50'], color=RH_COL)
line(tw, rh_t, rh, RH_COL, 1.5)

ax, tw = panel((349, 841, 351, 428), LONG_X, (1005, 1025.7), [1025, 1020, 1015, 1010, 1005], ['1025', '1020', '1015', '1010', '1005'], ['769', '765', '761', '758', '754'])
blocks(ax, press_t, press, list(range(-2, 77)), press_col)
line(ax, press_t, press, 'k', 1.8)

ax, tw = panel((349, 841, 438, 515), LONG_X, (0, 25.3), [25, 20, 15, 10, 5, 0], ['25', '20', '15', '10', '5', '0'], ['90', '72', '54', '36', '18', '0'])
blocks(ax, wind_t, wind, list(range(-2, 77)), wind_col)
line(ax, wind_t, wind, NAVY, 1.6)
ax.hlines(gust, hours, np.array(hours) + 1, color='#ff0000', lw=1, zorder=3)

ax = px_axes(349, 841, 522, 552)
ax.set_xlim(*LONG_X)
ax.set_ylim(0, 1)
ax.set_xticks(list(range(0, 76, 3)))
ax.set_yticks([])
ax.tick_params(length=0, labelbottom=False)
ax.grid(True, axis='x', color='k', linestyle=(0, (2, 2)), linewidth=0.9)
for a, b in LONG_NIGHT:
    ax.axvspan(a, b, color='k', alpha=0.1, lw=0, zorder=0.6)
arrows(ax, hours, wind_dir, 0.115)

ax, tw = panel((349, 841, 558, 636), LONG_X, (0, 4), [4, 3, 2, 1, 0], ['15.0', '7.0', '2.0', '0.5', '0.0'], ['100', '20', '5', '1', '0'], VIS_COL, face=SKY)
dots(ax, hours, base_top, '#a02020')
dots(ax, light_t, light_p, '#c4c4c4', z=4.1)
dots(ax, white_t, white_p, 'white', z=4.15)
dots(ax, dark_t, dark_p, '#5c5c5c', z=4.2)
dots(ax, black_t, black_p, 'k', z=4.3)
line(ax, vis_t, vis_p, '#ff9000', 1.6, z=4.5)

# only the top of this panel fits inside the picture
ax, tw = panel((349, 841, 646, 724), LONG_X, (0, 8.25), [8, 6, 4, 2, 0], ['8', '', '', '', ''], ['1', '', '', '', ''], VIS_COL, face=SKY)
ax.fill_between(cover_t, cover_v, 0, color='#575757', lw=0, zorder=1.4)

# ---- all the words and leader lines ----
ov = fig.add_axes([0, 0, 1, 1], zorder=20)
ov.set_xlim(0, W)
ov.set_ylim(H, 0)
ov.axis('off')
ov.patch.set_visible(False)


def say(x, y, s, col='k', size=7.6, ha='left', **kw):
    ov.text(x, y, s, color=col, fontsize=size, ha=ha, va='center', **kw)


def lead(xs, ys, col, lw=0.9):
    ov.plot(xs, ys, color=col, lw=lw, solid_capstyle='butt')


BROWN = '#a52a2a'
GREEN = '#00a000'
SNOW = '#2040c0'
say(6, 15, 'Czas lokalny')
say(6, 27, '(CET/CEST)')
say(6, 43, 'Temperatura gruntu', BROWN)
say(28, 53, 'max/min', BROWN)
say(6, 64, 'Temperatura:')
say(13, 76, 'punkt środkowy', '#ff0000', 8)
say(28, 87, 'max/min', '#ffd8c8')
say(10, 98, 'odczuwana', '#0000e0')
say(28, 108, 'max/min', '#a8dcf8')
say(6, 120, 'Temp. punktu rosy', '#6a5acd')
say(6, 137, 'Opad powyżej skali', '#ff0000')
say(6, 151, 'Wilgotność względna', RH_COL)
say(6, 165, 'Wystąpienie burzy')
say(6, 179, 'Deszcz: max', GREEN)
say(49, 190, 'średni', GREEN)
say(6, 201, 'Śnieg:', SNOW)
say(49, 201, 'max', SNOW)
say(49, 212, 'średni', SNOW)
say(6, 224, 'Wystąpienie opadu', '#ff0000')
say(6, 237, 'konwekcyjnego', '#ff0000')
say(5, 264, 'Ciśnienie')
say(5, 276, 'zredukowane')
say(5, 289, 'do poziomu morza')
say(5, 318, 'Wiatr na 10m:')
say(10, 334, 'poryw powyżej skali', '#ff0000', 8)
say(10, 348, 'max porywy wiatru', '#ff0000', 8)
say(10, 367, 'prędkość wiatru', NAVY, 8)
say(10, 381, 'w środku obszaru', NAVY, 8)
say(10, 410, 'kierunek wiatru', NAVY, 8)
say(6, 431, 'Wierzchołek chmur', BROWN)
say(6, 444, 'Podstawa chmur*')
say(6, 456, 'o pokryciu')
say(11, 468, '> 7.9 okt.')
say(11, 480, '> 6.5 okt.', '#555555')
say(11, 491, '> 4.5 okt.', '#aaaaaa')
say(11, 501, '> 2.5 okt.', '#dddddd')
ov.add_patch(Rectangle((11, 504), 44, 12, color=SKY, lw=0))
say(11, 510, '> 0.1 okt.', 'white')
say(6, 526, 'Widzialność', VIS_COL)
say(6, 543, 'Chmury:')
ov.add_patch(Rectangle((10, 550), 41, 13, color=SKY, lw=0))
say(11, 556, 'wysokie', 'white')
say(10, 569, 'średnie', '#aaaaaa')
say(10, 581, 'niskie', '#444444')
say(10, 593, 'bardzo niskie', '#333333')
say(6, 605, 'Mgła', '#ffb800')
say(6, 622, 'Czas uniwersalny (UTC)', size=8.7)
say(5, 648, '* powyżej poziomu morza', size=7, fontweight='bold')

lead([68, 132, 157], [16, 16, 43], 'k')
lead([102, 120, 156], [43, 43, 100], BROWN)
lead([92, 115], [77, 77], '#ff0000')
lead([130, 136, 156], [76, 78, 102], '#ff0000')
lead([70, 135, 167], [99, 99, 111], '#0000e0')
lead([95, 135, 143], [120, 120, 113], '#6a5acd')
lead([102, 137, 146], [137, 137, 147], '#ff0000')
lead([106, 112], [152, 152], RH_COL)
lead([130, 145], [152, 163], RH_COL)
lead([104, 112], [166, 166], 'k')
lead([130, 138], [166, 173], 'k')
lead([72, 139], [179, 179], GREEN)
lead([80, 143], [190, 190], GREEN)
lead([72, 112], [202, 202], SNOW)
lead([130, 160], [202, 172], SNOW)
lead([82, 133, 159], [212, 212, 182], SNOW)
lead([97, 140, 147], [224, 224, 220], '#ff0000')
lead([52, 133], [264, 264], 'k')
lead([112, 128, 138], [334, 334, 316], '#ff0000')
lead([106, 132, 147], [348, 348, 340], '#ff0000')
lead([92, 135], [367, 367], NAVY)
lead([86, 137], [410, 410], NAVY)
lead([100, 133, 185], [431, 431, 450], BROWN)
lead([57, 133, 192], [468, 468, 456], 'k')
lead([57, 143], [480, 480], '#555555')
lead([57, 132, 143], [491, 491, 502], '#999999')
lead([57, 132, 137], [501, 501, 505], '#dddddd')
lead([57, 135], [509, 509], SKY)
lead([57, 135], [511, 511], SKY)
lead([67, 128, 172], [527, 527, 465], VIS_COL)
lead([53, 187], [556, 556], SKY)
lead([53, 187], [558, 558], SKY)
lead([50, 193], [572, 572], '#999999')
lead([38, 122], [582, 582], '#333333')
lead([130, 135], [582, 582], '#333333')
lead([74, 150], [594, 594], '#111111')
lead([27, 217, 219], [605, 605, 600], '#ffb800')
lead([139, 148, 157], [623, 623, 608], 'k')

say(286, 129, 'wschód słońca: 05:54 CEST', NAVY, 8.8)
say(288, 142, 'zachód słońca: 19:16 CEST', NAVY, 8.8)
say(597, 128, '21°28\'30"E, 53°53\'34"N', NAVY, 8.8, ha='center')
say(597, 142, '(x=257,  y=358)', NAVY, 8.8, ha='center')
say(819, 129, 'wysokość (min, środek, max)', NAVY, 8.8, ha='center')
say(819, 142, '128 - 151 - 178 m', NAVY, 8.8, ha='center')
say(495, 158, 'pon, 06.04', size=9, ha='center')
say(649, 158, 'wto, 07.04', size=9, ha='center')
say(803, 158, 'śro, 08.04', size=9, ha='center')
say(320, 171, 'CEST', size=9, ha='center')
say(871, 171, 'CEST', size=9, ha='center')

for y, left, unit, runit, right, size in [(218, 'temperatura', '(°C)', '(°C)', 'temperatura', 9),
                                          (304, 'opad', '(mm/h, kg/m²/h)', '(%)', 'wilgotność wzgl.', 9),
                                          (390, 'ciśnienie', '(hPa)', '(mm Hg)', 'ciśnienie', 9),
                                          (476, 'wiatr', '(m/s)', '(km/h)', 'wiatr', 9),
                                          (599, 'pion. rozciągł. chm.', '(km)', '(km)', 'widzialność', 8.3)]:
    say(290, y, left, NAVY, size, ha='center', rotation=90)
    say(304, y, unit, NAVY, 9, ha='center', rotation=90)
    say(890, y, runit, NAVY, 9, ha='center', rotation=90)
    say(903, y, right, NAVY, 9, ha='center', rotation=90)
say(290, 655, 'e', NAVY, 9, ha='center', rotation=90)
for x0 in (286, 885):
    say(x0 + 1, 534, 'W', NAVY, 10, ha='center')
    say(x0 + 12, 527, 'N', NAVY, 10, ha='center')
    say(x0 + 19, 536, 'E', NAVY, 8, ha='center', rotation=90)
    say(x0 + 12, 543, 'S', NAVY, 8, ha='center', rotation=70)

banner_font = ['Open Sans', 'DejaVu Sans']
say(311, 33, 'Oficjalna aplikacja', 'white', 13.6, family=banner_font)
say(311, 61, 'Meteo ICM', 'white', 13.6, family=banner_font, fontweight='bold')
say(419, 61, 'do pobrania', 'white', 13.6, family=banner_font)
say(311, 89, 'w Google Play i App Store', 'white', 13.6, family=banner_font)
say(765, 85, 'icmmeteo', 'white', 12.8, family=banner_font, fontweight='bold')
say(873, 85, 'M°', '#0e4c9e', 11, ha='center', family=banner_font, fontweight='bold')

fig.savefig('out.png', dpi=100)
